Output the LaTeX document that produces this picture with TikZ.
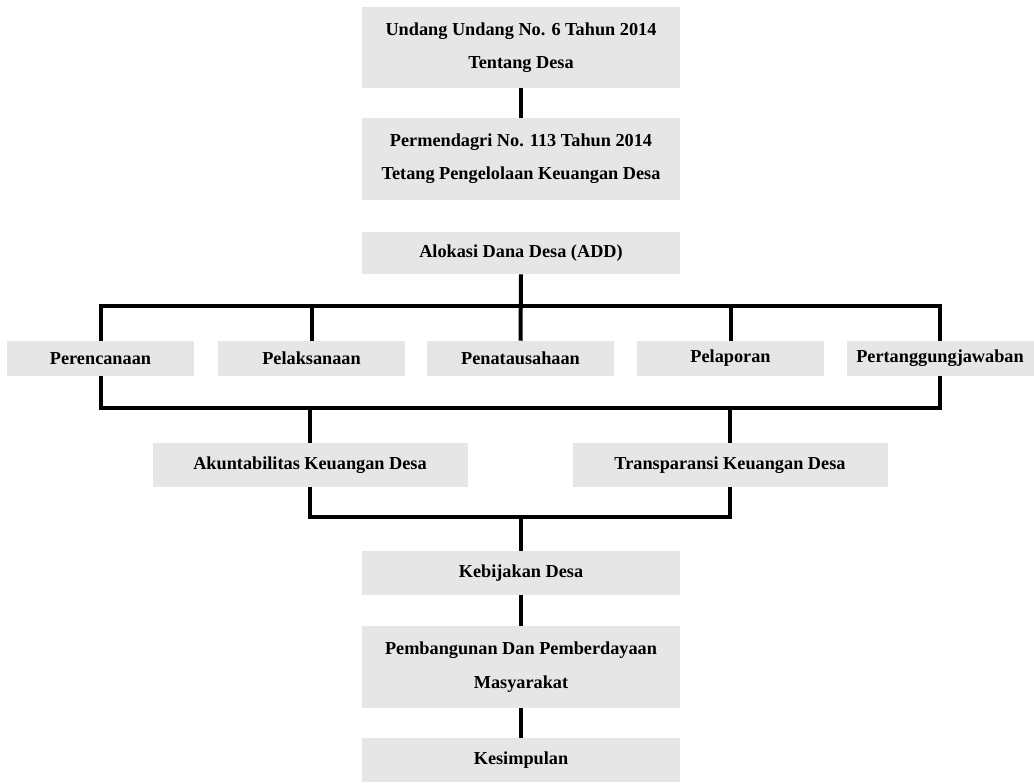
\documentclass[tikz,border=0pt]{standalone}
\usepackage{fontspec}
\setmainfont{Liberation Serif}
\definecolor{boxgray}{RGB}{230,230,230}
\begin{document}
\begin{tikzpicture}[x=0.75pt,y=0.75pt,yscale=-1,xscale=1,
	box/.style={fill=boxgray, inner sep=0pt, align=center, font=\fontsize{13.7}{25}\selectfont\bfseries},
	widebox/.style={box, minimum width=318*0.75pt},
	smallbox/.style={box, minimum width=187*0.75pt, minimum height=35*0.75pt},
	midbox/.style={box, minimum width=315*0.75pt, minimum height=44*0.75pt},
	link/.style={line width=3pt}]
	\useasboundingbox (0,0) rectangle (1034,782);
	
	% Boxes top column
	\node [widebox, minimum height=81*0.75pt] (uu) at (521,47.5) {Undang Undang No. 6 Tahun 2014\\Tentang Desa};
	\node [widebox, minimum height=82*0.75pt] (perm) at (521,159) {Permendagri No. 113 Tahun 2014\\Tetang Pengelolaan Keuangan Desa};
	\node [widebox, minimum height=42*0.75pt] (add) at (521,253) {Alokasi Dana Desa (ADD)};
	
	% Five stages
	\node [smallbox] (rencana) at (100.5,358.5) {Perencanaan};
	\node [smallbox] (laksana) at (311.5,358.5) {Pelaksanaan};
	\node [smallbox] (tatausaha) at (520.5,358.5) {Penatausahaan};
	\node [smallbox] (lapor) at (730.5,358.5) {Pelaporan};
	\node [smallbox] (jawab) at (940,358.5) {Pertanggungjawaban};
	
	% Two outcomes
	\node [midbox] (akun) at (310,465) {Akuntabilitas Keuangan Desa};
	\node [midbox] (trans) at (730,465) {Transparansi Keuangan Desa};
	
	% Bottom column
	\node [widebox, minimum height=44*0.75pt] (bijak) at (521,573) {Kebijakan Desa};
	\node [widebox, minimum height=82*0.75pt] (bangun) at (521,667) {Pembangunan Dan Pemberdayaan\\Masyarakat};
	\node [widebox, minimum height=44*0.75pt] (simpul) at (521,760) {Kesimpulan};
	
	% Bus coordinates
	\coordinate (busTop) at (520,306);
	\coordinate (busBot) at (520,408);
	\coordinate (busMid) at (520,517);
	
	% Connectors
	\draw [link] (uu.south) -- (perm.north);
	\draw [link] (add.south) -- (tatausaha.north);
	\draw [link] (rencana.north) -- (rencana.north |- busTop) -| (jawab.north);
	\draw [link] (laksana.north) -- (laksana.north |- busTop);
	\draw [link] (lapor.north) -- (lapor.north |- busTop);
	\draw [link] (rencana.south) -- (rencana.south |- busBot) -| (jawab.south);
	\draw [link] (akun.north) -- (akun.north |- busBot);
	\draw [link] (trans.north) -- (trans.north |- busBot);
	\draw [link] (akun.south) -- (akun.south |- busMid) -| (trans.south);
	\draw [link] (bijak.north) -- (bijak.north |- busMid);
	\draw [link] (bijak.south) -- (bangun.north);
	\draw [link] (bangun.south) -- (simpul.north);
	
\end{tikzpicture}
\end{document}
